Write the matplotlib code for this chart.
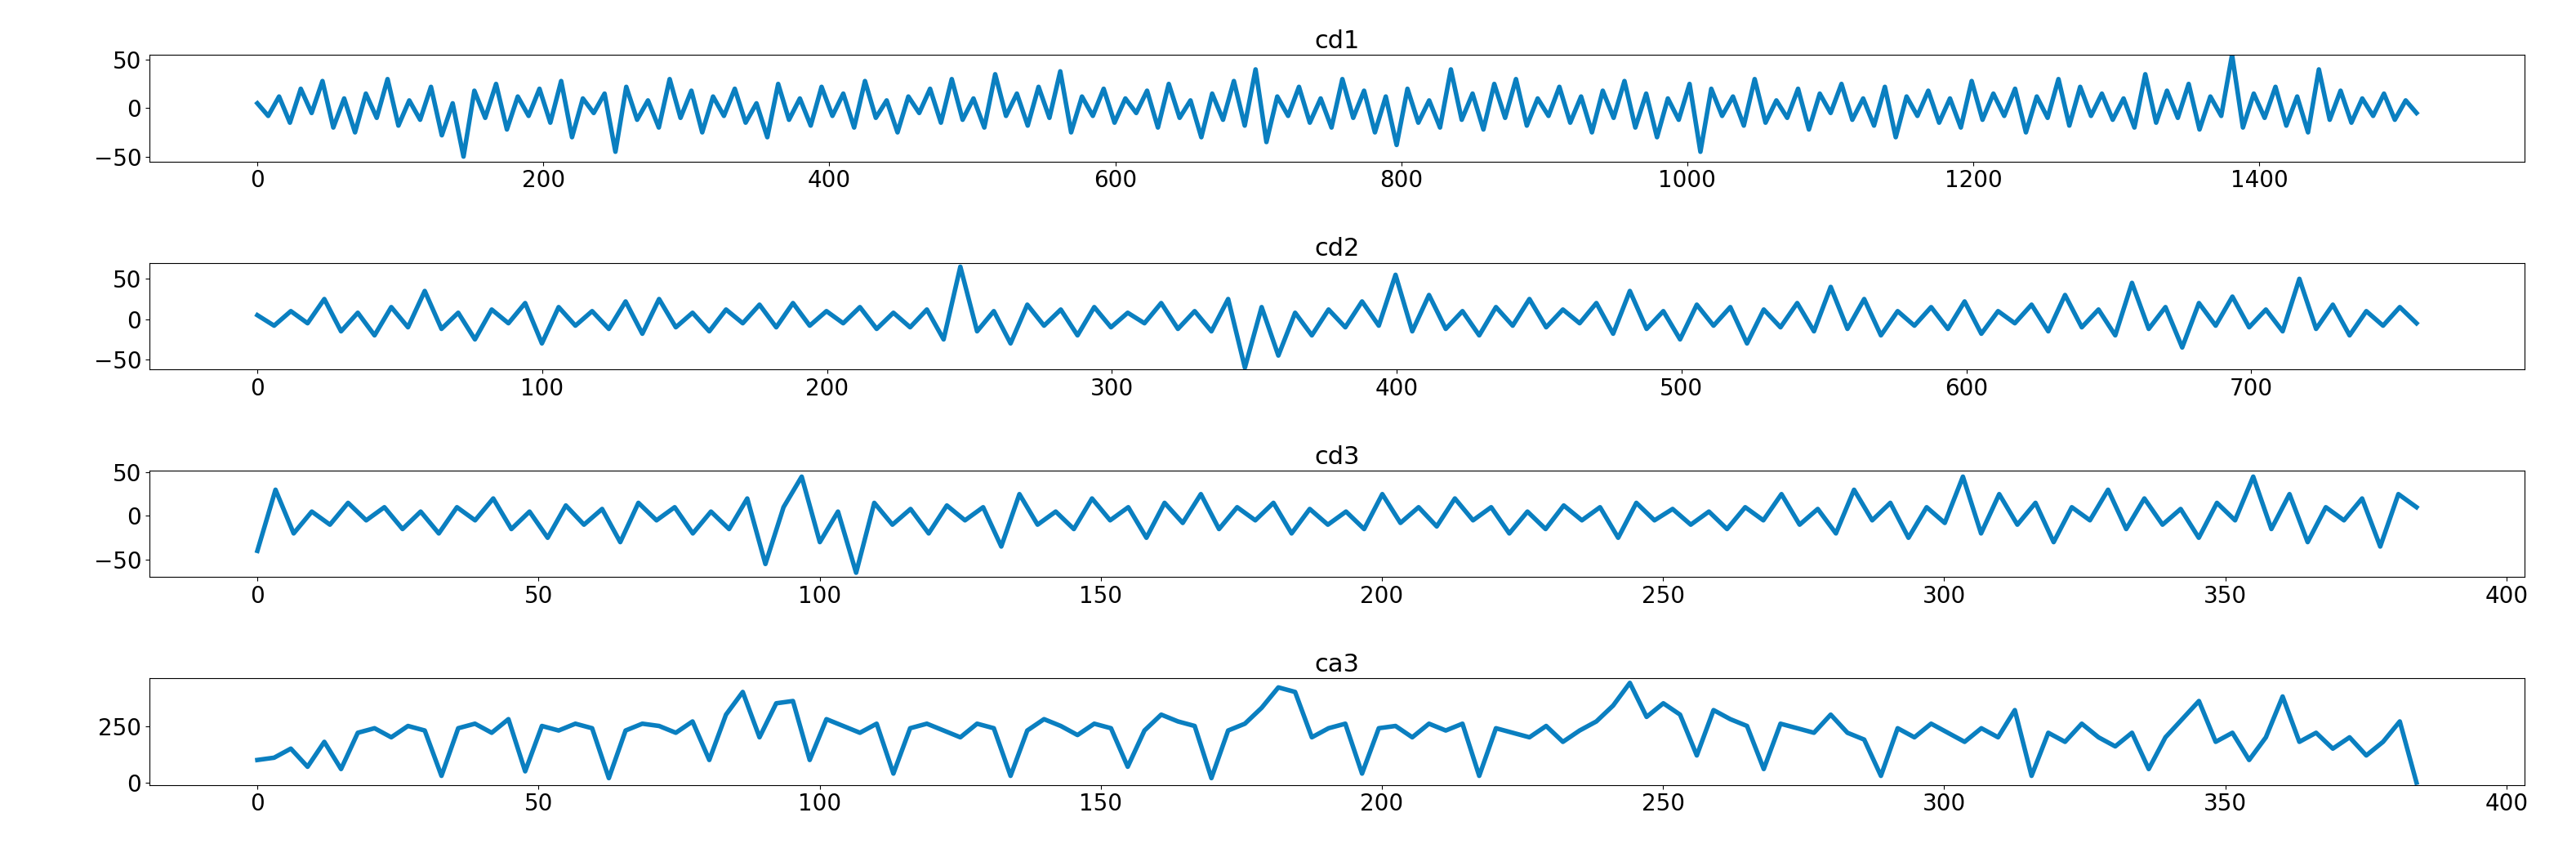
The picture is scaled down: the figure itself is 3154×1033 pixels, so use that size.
import numpy as np
import matplotlib.pyplot as plt

# estimated values (subsampled)
cd1 = [5, -8, 12, -15, 20, -5, 28, -20, 10, -25, 15, -10, 30, -18, 8, -12, 22, -28, 5, -50,
       18, -10, 25, -22, 12, -8, 20, -15, 28, -30, 10, -5, 15, -45, 22, -12, 8, -20, 30, -10,
       18, -25, 12, -8, 20, -15, 5, -30, 25, -12, 10, -18, 22, -8, 15, -20, 28, -10, 8, -25,
       12, -5, 20, -15, 30, -12, 10, -20, 35, -8, 15, -18, 22, -10, 38, -25, 12, -8, 20, -15,
       10, -5, 18, -20, 25, -10, 8, -30, 15, -12, 28, -18, 40, -35, 12, -8, 22, -15, 10, -20,
       30, -10, 18, -25, 12, -38, 20, -15, 8, -20, 40, -12, 15, -22, 25, -10, 30, -18, 10, -8,
       22, -15, 12, -25, 18, -10, 28, -20, 15, -30, 10, -12, 25, -45, 20, -8, 12, -18, 30, -15,
       8, -10, 20, -22, 15, -5, 25, -12, 10, -18, 22, -30, 12, -8, 18, -15, 10, -20, 28, -12,
       15, -8, 20, -25, 12, -10, 30, -18, 22, -8, 15, -12, 10, -20, 35, -15, 18, -10, 25, -22,
       12, -8, 55, -20, 15, -10, 22, -18, 12, -25, 40, -12, 18, -15, 10, -8, 15, -12, 8, -5]
cd2 = [5, -8, 10, -5, 25, -15, 8, -20, 15, -10, 35, -12, 8, -25, 12, -5, 20, -30, 15, -8,
       10, -12, 22, -18, 25, -10, 8, -15, 12, -5, 18, -10, 20, -8, 10, -5, 15, -12, 8, -10,
       12, -25, 65, -15, 10, -30, 18, -8, 12, -20, 15, -10, 8, -5, 20, -12, 10, -15, 25, -60,
       15, -45, 8, -20, 12, -10, 22, -8, 55, -15, 30, -12, 10, -20, 15, -8, 25, -10, 12, -5,
       20, -18, 35, -12, 10, -25, 18, -8, 15, -30, 12, -10, 20, -15, 40, -12, 25, -20, 10, -8,
       15, -12, 22, -18, 10, -5, 18, -15, 30, -10, 12, -20, 45, -12, 15, -35, 20, -8, 28, -10,
       12, -15, 50, -12, 18, -20, 10, -8, 15, -5]
cd3 = [-40, 30, -20, 5, -10, 15, -5, 10, -15, 5, -20, 10, -5, 20, -15, 5, -25, 12, -10, 8,
       -30, 15, -5, 10, -20, 5, -15, 20, -55, 10, 45, -30, 5, -65, 15, -10, 8, -20, 12, -5,
       10, -35, 25, -10, 5, -15, 20, -5, 10, -25, 15, -8, 25, -15, 10, -5, 15, -20, 8, -10,
       5, -15, 25, -8, 10, -12, 20, -5, 10, -20, 5, -15, 12, -5, 10, -25, 15, -5, 8, -10,
       5, -15, 10, -5, 25, -10, 8, -20, 30, -5, 15, -25, 10, -8, 45, -20, 25, -10, 15, -30,
       10, -5, 30, -15, 20, -10, 8, -25, 15, -5, 45, -15, 25, -30, 10, -5, 20, -35, 25, 10]
ca3 = [100, 110, 150, 70, 180, 60, 220, 240, 200, 250, 230, 30, 240, 260, 220, 280, 50, 250, 230, 260,
       240, 20, 230, 260, 250, 220, 270, 100, 300, 400, 200, 350, 360, 100, 280, 250, 220, 260, 40, 240,
       260, 230, 200, 260, 240, 30, 230, 280, 250, 210, 260, 240, 70, 230, 300, 270, 250, 20, 230, 260,
       330, 420, 400, 200, 240, 260, 40, 240, 250, 200, 260, 230, 260, 30, 240, 220, 200, 250, 180, 230,
       270, 340, 440, 290, 350, 300, 120, 320, 280, 250, 60, 260, 240, 220, 300, 220, 190, 30, 240, 200,
       260, 220, 180, 240, 200, 320, 30, 220, 180, 260, 200, 160, 220, 60, 200, 280, 360, 180, 220, 100,
       200, 380, 180, 220, 150, 200, 120, 180, 270, 0]

series = [("cd1", cd1, 1510, (-55, 55), [-50, 0, 50]),
          ("cd2", cd2, 758, (-62, 70), [-50, 0, 50]),
          ("cd3", cd3, 384, (-70, 52), [-50, 0, 50]),
          ("ca3", ca3, 384, (-10, 460), [0, 250])]

plt.rcParams['font.size'] = 20
fig, axes = plt.subplots(4, 1, figsize=(31.54, 10.33), dpi=100)
fig.subplots_adjust(left=0.058, right=0.98, top=0.935, bottom=0.07, hspace=0.95)
for ax, (name, vals, xmax, yl, yt) in zip(axes, series):
    x = np.linspace(0, xmax, len(vals))
    ax.plot(x, vals, color="#0a7fc0", lw=4)
    ax.set_title(name, fontsize=22)
    ax.set_yticks(yt)
    ax.set_ylim(*yl)
fig.savefig("out.png")
